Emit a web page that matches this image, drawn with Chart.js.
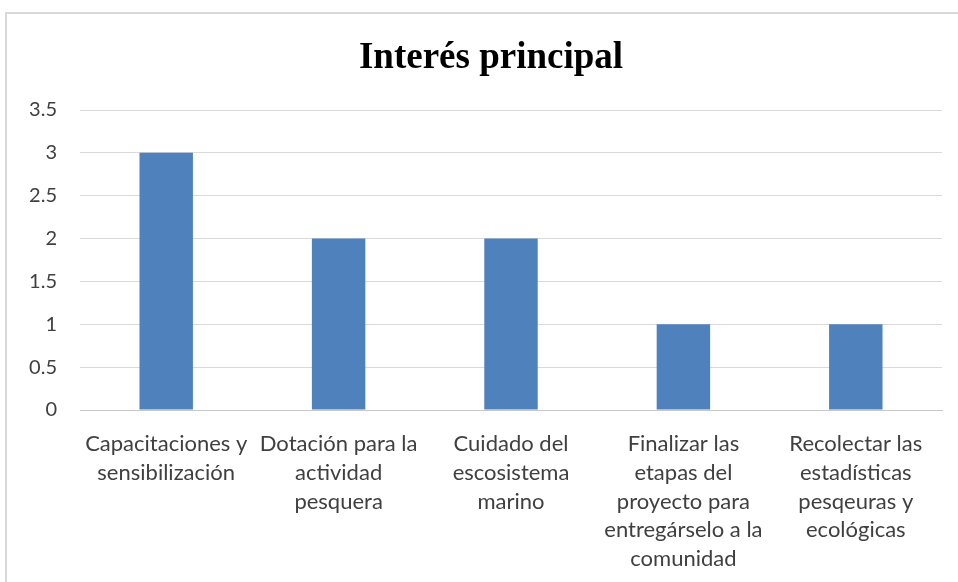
<!DOCTYPE html>
<html>
<head>
<meta charset="utf-8">
<script src="https://cdn.jsdelivr.net/npm/chart.js@4/dist/chart.umd.min.js"></script>
<style>
  html, body { margin: 0; padding: 0; background: #fff; width: 958px; height: 582px; overflow: hidden; }
  #frame { position: absolute; left: 5px; top: 12px; width: 1000px; height: 700px; border-top: 2px solid #d9d9d9; border-left: 2px solid #d9d9d9; box-sizing: border-box; }
  #c { position: absolute; left: 0; top: 0; }
</style>
</head>
<body>
<div id="frame"></div>
<canvas id="c" width="958" height="582"></canvas>
<script>
const chartTitle = 'Interés principal';
const categories = [
  ['Capacitaciones y', 'sensibilización'],
  ['Dotación para la', 'actividad', 'pesquera'],
  ['Cuidado del', 'escosistema', 'marino'],
  ['Finalizar las', 'etapas del', 'proyecto para', 'entregárselo a la', 'comunidad'],
  ['Recolectar las', 'estadísticas', 'pesqeuras y', 'ecológicas']
];
const values = [3, 2, 2, 1, 1];
const yTicks = [0, 0.5, 1, 1.5, 2, 2.5, 3, 3.5];

const titlePlugin = {
  id: 'customTitle',
  afterDraw(chart) {
    const ctx = chart.ctx;
    ctx.save();
    ctx.font = 'bold 37px "Liberation Serif"';
    ctx.fillStyle = '#000';
    ctx.textAlign = 'center';
    ctx.textBaseline = 'alphabetic';
    ctx.fillText(chartTitle, 491, 68);
    ctx.restore();
  }
};

new Chart(document.getElementById('c'), {
  type: 'bar',
  data: {
    labels: categories,
    datasets: [{
      data: values,
      backgroundColor: '#4F81BD',
      borderWidth: 0,
      categoryPercentage: 1,
      barPercentage: 0.31
    }]
  },
  plugins: [titlePlugin],
  options: {
    responsive: false,
    animation: false,
    devicePixelRatio: 1,
    layout: { padding: { left: 0, right: 16, top: 110, bottom: 0 } },
    plugins: {
      legend: { display: false },
      tooltip: { enabled: false },
      title: { display: false }
    },
    scales: {
      x: {
        grid: { display: false },
        border: { display: true, color: '#c8c8c8', width: 1 },
        ticks: {
          color: '#404040',
          font: { family: 'Lato', size: 22, lineHeight: '28.6px' },
          padding: 12,
          maxRotation: 0,
          minRotation: 0,
          autoSkip: false
        },
        afterFit: s => { s.height = 172; }
      },
      y: {
        min: 0,
        max: 3.5,
        afterBuildTicks: s => { s.ticks = yTicks.map(v => ({ value: v })); },
        grid: { color: '#d9d9d9', lineWidth: 1, drawTicks: false },
        border: { display: false },
        ticks: {
          color: '#404040',
          font: { family: 'Lato', size: 20 },
          padding: 23,
          callback: v => String(v)
        },
        afterFit: s => { s.width = 80; }
      }
    }
  }
});
</script>
</body>
</html>
